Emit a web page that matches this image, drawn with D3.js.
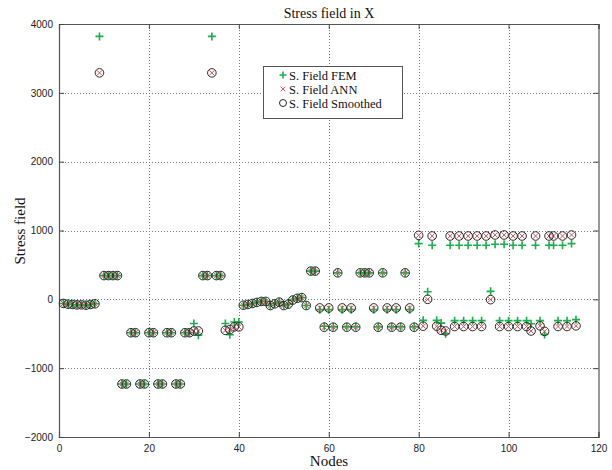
<!DOCTYPE html>
<html>
<head>
<meta charset="utf-8">
<script src="https://cdn.jsdelivr.net/npm/d3@7"></script>
<style>
  html, body { margin: 0; padding: 0; background: #fff; }
  svg { display: block; }
</style>
</head>
<body>
<svg id="chart" width="612" height="470"></svg>
<script>
// Node numbers along the x axis
const nodes = [
  1, 2, 3, 4, 5, 6, 7, 8, 9, 10, 11, 12, 13, 14, 15, 16, 17, 18, 19, 20,
  21, 22, 23, 24, 25, 26, 27, 28, 29, 30, 31, 32, 33, 34, 35, 36, 37, 38, 39, 40,
  41, 42, 43, 44, 45, 46, 47, 48, 49, 50, 51, 52, 53, 54, 55, 56, 57, 58, 59, 60,
  61, 62, 63, 64, 65, 66, 67, 68, 69, 70, 71, 72, 73, 74, 75, 76, 77, 78, 79, 80,
  81, 82, 83, 84, 85, 86, 87, 88, 89, 90, 91, 92, 93, 94, 95, 96, 97, 98, 99, 100,
  101, 102, 103, 104, 105, 106, 107, 108, 109, 110, 111, 112, 113, 114, 115
];

// Stress field from the finite element model
const fieldFEM = [
  -60, -70, -75, -80, -80, -85, -75, -65, 3820, 345,
  345, 345, 345, -1230, -1230, -485, -485, -1230, -1230, -485,
  -485, -1230, -1230, -485, -485, -1230, -1230, -485, -485, -350,
  -520, 345, 345, 3820, 345, 345, -350, -515, -330, -330,
  -85, -75, -60, -45, -30, -30, -90, -65, -40, -90,
  -70, -10, 15, 25, -90, 410, 410, -150, -390, -150,
  -400, 385, -150, -400, -150, -400, 385, 385, 385, -150,
  -400, 385, -150, -400, -150, -400, 385, -150, -400, 810,
  -305, 110, 785, -305, -345, -500, 785, -310, 785, -310,
  785, -310, 785, -310, 785, 116, 800, -310, 800, -310,
  785, -310, 785, -310, -355, 785, -310, -510, 785, 785,
  -310, 785, -310, 810, -295
];

// Stress field predicted by the neural network
const fieldANN = [
  -60, -70, -75, -80, -80, -85, -75, -65, 3290, 345,
  345, 345, 345, -1230, -1230, -485, -485, -1230, -1230, -485,
  -485, -1230, -1230, -485, -485, -1230, -1230, -485, -485, -460,
  -460, 345, 345, 3290, 345, 345, -450, -440, -400, -400,
  -85, -75, -60, -45, -30, -30, -90, -65, -40, -90,
  -70, -10, 15, 25, -90, 410, 410, -125, -405, -125,
  -405, 385, -125, -405, -125, -405, 385, 385, 385, -125,
  -405, 385, -125, -405, -125, -405, 385, -125, -405, 930,
  -390, 0, 920, -390, -450, -460, 920, -395, 920, -395,
  920, -395, 920, -395, 920, -5, 935, -395, 935, -395,
  920, -395, 920, -395, -460, 920, -385, -465, 920, 920,
  -395, 920, -395, 935, -385
];

// Smoothed neural network field
const fieldSmoothed = [
  -60, -70, -75, -80, -80, -85, -75, -65, 3290, 345,
  345, 345, 345, -1230, -1230, -485, -485, -1230, -1230, -485,
  -485, -1230, -1230, -485, -485, -1230, -1230, -485, -485, -460,
  -460, 345, 345, 3290, 345, 345, -450, -440, -400, -400,
  -85, -75, -60, -45, -30, -30, -90, -65, -40, -90,
  -70, -10, 15, 25, -90, 410, 410, -125, -405, -125,
  -405, 385, -125, -405, -125, -405, 385, 385, 385, -125,
  -405, 385, -125, -405, -125, -405, 385, -125, -405, 930,
  -390, 0, 920, -390, -450, -460, 920, -395, 920, -395,
  920, -395, 920, -395, 920, -5, 935, -395, 935, -395,
  920, -395, 920, -395, -460, 920, -385, -465, 920, 920,
  -395, 920, -395, 935, -385
];

const xTicks = [0, 20, 40, 60, 80, 100, 120];
const yTicks = [-2000, -1000, 0, 1000, 2000, 3000, 4000];
const seriesNames = ["S. Field FEM", "S. Field ANN", "S. Field Smoothed"];

const titleText = "Stress field in X";
const xLabelText = "Nodes";
const yLabelText = "Stress field";

const svg = d3.select("#chart");
const plot = { left: 59, right: 598.5, top: 24, bottom: 437 };

const x = d3.scaleLinear().domain([0, 120]).range([plot.left, plot.right]);
const y = d3.scaleLinear().domain([-2000, 4000]).range([plot.bottom, plot.top]);

const green = "#19b04a";
const red = "#e0505a";
const ink = "#2a2a2a";

// Dotted grid
const grid = svg.append("g");
xTicks.slice(1, -1).forEach(t => {
  const px = Math.round(x(t)) + 0.5;
  grid.append("line").attr("x1", px).attr("x2", px)
    .attr("y1", plot.top).attr("y2", plot.bottom)
    .attr("stroke", "#777").attr("stroke-width", 1).attr("stroke-dasharray", "1,2");
});
yTicks.slice(1, -1).forEach(t => {
  const py = Math.round(y(t)) + 0.5;
  grid.append("line").attr("y1", py).attr("y2", py)
    .attr("x1", plot.left).attr("x2", plot.right)
    .attr("stroke", "#777").attr("stroke-width", 1).attr("stroke-dasharray", "1,2");
});

// Axes with inward ticks on all four sides
const tickFont = "'Liberation Sans', Arial, sans-serif";
const axisBottom = d3.axisBottom(x).tickValues(xTicks).tickSize(-5).tickPadding(8).tickFormat(d3.format("d"));
const axisTop = d3.axisTop(x).tickValues(xTicks).tickSize(-5).tickFormat("");
const axisLeft = d3.axisLeft(y).tickValues(yTicks).tickSize(-5).tickPadding(6).tickFormat(d3.format("d"));
const axisRight = d3.axisRight(y).tickValues(yTicks).tickSize(-5).tickFormat("");

function styleAxis(g) {
  g.select(".domain").attr("stroke", "#555").attr("stroke-width", 1.2);
  g.selectAll(".tick line").attr("stroke", "#444");
  g.selectAll(".tick text").attr("fill", "#222").style("font-family", tickFont).style("font-size", "10px");
}

svg.append("g").attr("transform", `translate(0,${plot.bottom})`).call(axisBottom).call(styleAxis);
svg.append("g").attr("transform", `translate(0,${plot.top})`).call(axisTop).call(styleAxis);
svg.append("g").attr("transform", `translate(${plot.left},0)`).call(axisLeft).call(styleAxis);
svg.append("g").attr("transform", `translate(${plot.right},0)`).call(axisRight).call(styleAxis);

// Markers
const pts = nodes.map((n, i) => ({ n, fem: fieldFEM[i], ann: fieldANN[i], sm: fieldSmoothed[i] }));

function plus(g, cx, cy, s) {
  g.append("path").attr("d", `M${cx - s},${cy}H${cx + s}M${cx},${cy - s}V${cy + s}`)
    .attr("stroke", green).attr("stroke-width", 1.6).attr("fill", "none");
}
function cross(g, cx, cy, s) {
  g.append("path").attr("d", `M${cx - s},${cy - s}L${cx + s},${cy + s}M${cx - s},${cy + s}L${cx + s},${cy - s}`)
    .attr("stroke", red).attr("stroke-width", 1).attr("fill", "none");
}
function ring(g, cx, cy, r) {
  g.append("circle").attr("cx", cx).attr("cy", cy).attr("r", r)
    .attr("stroke", ink).attr("stroke-width", 1).attr("fill", "none");
}

const gFem = svg.append("g");
const gAnn = svg.append("g");
const gSm = svg.append("g");
pts.forEach(p => {
  plus(gFem, x(p.n), y(p.fem), 4);
  cross(gAnn, x(p.n), y(p.ann), 2.6);
  ring(gSm, x(p.n), y(p.sm), 4.3);
});

// Legend
const lg = svg.append("g");
lg.append("rect").attr("x", 263.5).attr("y", 66.5).attr("width", 139).attr("height", 52)
  .attr("fill", "#fff").attr("stroke", "#555").attr("stroke-width", 1);
const legendRows = [75, 89, 103];
const legendFont = "'Liberation Serif', 'Times New Roman', serif";
seriesNames.forEach((name, i) => {
  const ly = legendRows[i];
  if (i === 0) plus(lg, 283, ly, 3.5);
  if (i === 1) cross(lg, 283, ly, 2.3);
  if (i === 2) ring(lg, 283, ly, 3.5);
  lg.append("text").attr("x", 289).attr("y", ly + 4.5).text(name)
    .style("font-family", legendFont).style("font-size", "12.5px").attr("fill", "#111");
});

// Titles
const serif = "'Liberation Serif', 'Times New Roman', serif";
svg.append("text").attr("x", 329).attr("y", 18).attr("text-anchor", "middle")
  .style("font-family", serif).style("font-size", "14px").attr("fill", "#111").text(titleText);
svg.append("text").attr("x", 329).attr("y", 466).attr("text-anchor", "middle")
  .style("font-family", serif).style("font-size", "15px").attr("fill", "#111").text(xLabelText);
svg.append("text").attr("transform", "translate(25,231) rotate(-90)").attr("text-anchor", "middle")
  .style("font-family", serif).style("font-size", "15px").attr("fill", "#111").text(yLabelText);
</script>
</body>
</html>
